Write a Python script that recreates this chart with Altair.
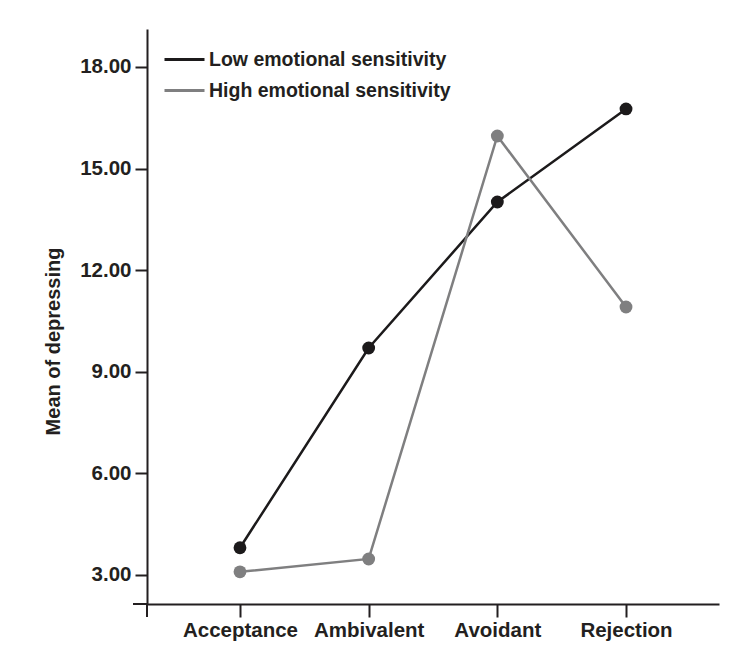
import altair as alt
import pandas as pd

categories = ["Acceptance", "Ambivalent", "Avoidant", "Rejection"]
low_values = [3.80, 9.70, 14.01, 16.76]
high_values = [3.09, 3.47, 15.96, 10.91]
series_names = ["Low emotional sensitivity", "High emotional sensitivity"]
series_colors = ["#1c1a1b", "#7f7f80"]
y_ticks = [3, 6, 9, 12, 15, 18]

rows = []
for c, v in zip(categories, low_values):
    rows.append({"cat": c, "val": v, "series": series_names[0]})
for c, v in zip(categories, high_values):
    rows.append({"cat": c, "val": v, "series": series_names[1]})
df = pd.DataFrame(rows)

FONT = "Liberation Sans"
TXT = "#231f20"

x_enc = alt.X("cat:N", sort=categories,
              scale=alt.Scale(type="point", padding=0.7226),
              axis=alt.Axis(title=None, labelFontSize=20.5, labelFontWeight="bold",
                            labelFont=FONT, labelColor=TXT, labelAngle=0,
                            tickSize=13, tickWidth=2, tickColor=TXT,
                            domainWidth=2, domainColor=TXT, labelPadding=3,
                            grid=False))
y_enc = alt.Y("val:Q", scale=alt.Scale(domain=[2.14, 19.12], nice=False, zero=False),
              axis=alt.Axis(title="Mean of depressing", values=y_ticks, format=".2f",
                            labelFontSize=20.5, labelFontWeight="bold", labelFont=FONT,
                            labelColor=TXT, tickSize=12, tickWidth=2, tickColor=TXT,
                            domainWidth=2, domainColor=TXT, labelPadding=4,
                            titleFontSize=20, titleFontWeight="bold", titleFont=FONT,
                            titleColor=TXT, titleX=-94, titleY=312, titleAngle=270,
                            titleAlign="center", titleBaseline="middle",
                            grid=False))
color_enc = alt.Color("series:N", sort=series_names,
                      scale=alt.Scale(domain=series_names, range=series_colors),
                      legend=alt.Legend(title=None, orient="none", legendX=16, legendY=9,
                                        symbolType="stroke", symbolSize=1600,
                                        symbolStrokeWidth=3, labelFontSize=19.5,
                                        labelFontWeight="bold", labelFont=FONT,
                                        labelColor=TXT, labelOffset=3, rowPadding=-13,
                                        labelLimit=500))

lines = alt.Chart(df).mark_line(strokeWidth=2.5).encode(x=x_enc, y=y_enc, color=color_enc,
                                                          detail="series:N")
points = alt.Chart(df).mark_circle(size=165, opacity=1).encode(
    x=alt.X("cat:N", sort=categories), y="val:Q",
    color=alt.Color("series:N", sort=series_names, legend=None))

# small axis overhangs
overhang_x = alt.Chart(df).mark_rule(color=TXT, strokeWidth=2).encode(
    x=alt.value(-14), x2=alt.value(0), y=alt.value(575))
overhang_tick = alt.Chart(df).mark_rule(color=TXT, strokeWidth=2).encode(
    x=alt.value(0), y=alt.value(575), y2=alt.value(588))

chart = alt.layer(lines, points, overhang_x, overhang_tick).properties(
    width=572, height=575,
    autosize=alt.AutoSizeParams(type="none"),
    padding={"left": 139, "top": 21, "right": 21, "bottom": 41},
).configure_view(stroke=None)

chart.save("out.html", embed_options={"renderer": "svg", "actions": False})
